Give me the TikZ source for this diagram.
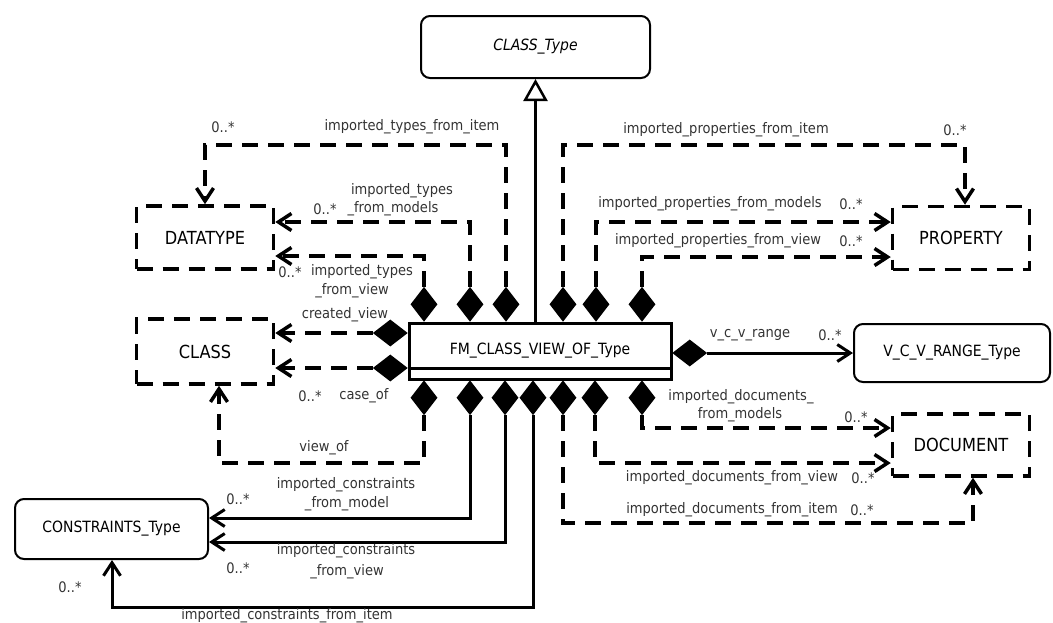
\documentclass[tikz,border=0pt]{standalone}
\usepackage{fontspec}
\setmainfont{DejaVu Sans}[FakeStretch=0.9]
\usetikzlibrary{arrows.meta,shapes.geometric}
\begin{document}
\begin{tikzpicture}[x=1pt,y=-1pt,
  lab/.style={inner sep=0pt, text=black!80, font=\fontsize{14.5}{16}\selectfont},
  dbox/.style={draw, line width=3.5pt, dash pattern=on 16pt off 10pt, minimum width=137pt, inner sep=0pt, font=\fontsize{18}{20}\selectfont},
  rbox/.style={draw, line width=2pt, rounded corners=9pt, inner sep=0pt, font=\fontsize{15.5}{17}\selectfont},
  mainbox/.style={draw, line width=3pt, inner sep=0pt, font=\fontsize{15.5}{17}\selectfont},
  vdia/.style={diamond, fill=black, inner sep=0pt, minimum width=27pt, minimum height=35pt},
  hdia/.style={diamond, fill=black, inner sep=0pt, minimum width=35pt, minimum height=27pt},
  dconn/.style={line width=3.5pt, dash pattern=on 16pt off 10pt, -{Straight Barb[length=13pt,width=17pt]}},
  sconn/.style={line width=3pt, -{Straight Barb[length=13pt,width=17pt]}},
  gen/.style={line width=2.5pt, -{Triangle[open,length=22pt,width=24pt]}}
]
\useasboundingbox (0,0) rectangle (1053,622);
% boxes
\node[rbox, minimum width=229pt, minimum height=62pt, font=\itshape\fontsize{15.5}{17}\selectfont] (CT) at (535.5,47) {CLASS\_Type};
\node[dbox, minimum height=63pt] (DT) at (205,237.5) {DATATYPE};
\node[dbox, minimum height=65pt] (CL) at (205,351.5) {CLASS};
\node[dbox, minimum height=63pt] (PR) at (961,238) {PROPERTY};
\node[dbox, minimum height=62pt] (DO) at (961,445) {DOCUMENT};
\node[rbox, minimum width=196pt, minimum height=58pt] (VR) at (952,353) {V\_C\_V\_RANGE\_Type};
\node[rbox, minimum width=193pt, minimum height=60pt] (CO) at (111.5,529) {CONSTRAINTS\_Type};
\node[mainbox, minimum width=262pt, minimum height=56pt] (FM) at (540,351) {FM\_CLASS\_VIEW\_OF\_Type};
\coordinate (comp) at (0,368);
\draw[line width=3pt] (FM.west |- comp) -- (FM.east |- comp);
% diamonds
\node[vdia, anchor=south] (dT1) at (424,322) {};
\node[vdia, anchor=south] (dT2) at (470,322) {};
\node[vdia, anchor=south] (dT3) at (506,322) {};
\node[vdia, anchor=south] (dT4) at (563,322) {};
\node[vdia, anchor=south] (dT5) at (596,322) {};
\node[vdia, anchor=south] (dT6) at (642,322) {};
\node[vdia, anchor=north] (dB1) at (424,380) {};
\node[vdia, anchor=north] (dB2) at (470,380) {};
\node[vdia, anchor=north] (dB3) at (505,380) {};
\node[vdia, anchor=north] (dB4) at (533,380) {};
\node[vdia, anchor=north] (dB5) at (563,380) {};
\node[vdia, anchor=north] (dB6) at (595,380) {};
\node[vdia, anchor=north] (dB7) at (642,380) {};
\node[hdia, anchor=east] (dL1) at (408,333) {};
\node[hdia, anchor=east] (dL2) at (408,368) {};
\node[hdia, anchor=west] (dR) at (672,353) {};
% generalization
\draw[gen] (FM.north -| CT.south) -- (CT.south);
% bend coordinates
\coordinate (k1) at (205,145);
\coordinate (k2) at (0,222);
\coordinate (k3) at (0,256);
\coordinate (k6) at (219,463);
\coordinate (k7) at (0,518);
\coordinate (k8) at (0,542);
\coordinate (k9) at (112,607);
\coordinate (k10) at (973,523);
\coordinate (k11) at (0,463);
\coordinate (k12) at (0,428);
\coordinate (k14) at (965,145);
\coordinate (k15) at (0,222);
\coordinate (k16) at (0,257);
% connectors
\draw[dconn] (dT3.north) |- (k1) -- (DT.north);
\draw[dconn] (dT2.north) |- (DT.east |- k2);
\draw[dconn] (dT1.north) |- (DT.east |- k3);
\draw[dconn] (dL1.west) -- (CL.east |- dL1.west);
\draw[dconn] (dL2.west) -- (CL.east |- dL2.west);
\draw[dconn] (dB1.south) |- (k6) -- (CL.south -| k6);
\draw[sconn] (dB2.south) |- (CO.east |- k7);
\draw[sconn] (dB3.south) |- (CO.east |- k8);
\draw[sconn] (dB4.south) |- (k9) -- (CO.south -| k9);
\draw[dconn] (dB5.south) |- (k10) -- (DO.south -| k10);
\draw[dconn] (dB6.south) |- (DO.west |- k11);
\draw[dconn] (dB7.south) |- (DO.west |- k12);
\draw[sconn] (dR.east) -- (VR.west |- dR.east);
\draw[dconn] (dT4.north) |- (k14) -- (PR.north -| k14);
\draw[dconn] (dT5.north) |- (PR.west |- k15);
\draw[dconn] (dT6.north) |- (PR.west |- k16);
% labels
\node[lab] (l1) at (412,127) {imported\_types\_from\_item};
\node[lab] (m1) at (223,127) {0..*};
\node[lab] (l2a) at (402,191) {imported\_types};
\node[lab] (l2b) at (393,209) {\_from\_models};
\node[lab] (m2) at (325,209) {0..*};
\node[lab] (l3a) at (362,272) {imported\_types};
\node[lab] (m3) at (290,272) {0..*};
\node[lab] (l3b) at (352,291) {\_from\_view};
\node[lab] (l4) at (345,315) {created\_view};
\node[lab] (m5) at (310,396) {0..*};
\node[lab] (l5) at (364,396) {case\_of};
\node[lab] (l6) at (324,448) {view\_of};
\node[lab] (l7a) at (346,485) {imported\_constraints};
\node[lab] (l7b) at (347,504) {\_from\_model};
\node[lab] (m7) at (238,499) {0..*};
\node[lab] (l8a) at (346,551) {imported\_constraints};
\node[lab] (l8b) at (347,572) {\_from\_view};
\node[lab] (m8) at (238,568) {0..*};
\node[lab] (m9) at (70,587) {0..*};
\node[lab] (l9) at (287,616) {imported\_constraints\_from\_item};
\node[lab] (l14) at (726,130) {imported\_properties\_from\_item};
\node[lab] (m14) at (955,130) {0..*};
\node[lab] (l15) at (710,204) {imported\_properties\_from\_models};
\node[lab] (m15) at (851,204) {0..*};
\node[lab] (l16) at (718,241) {imported\_properties\_from\_view};
\node[lab] (m16) at (851,241) {0..*};
\node[lab] (l13) at (750,335) {v\_c\_v\_range};
\node[lab] (m13) at (830,335) {0..*};
\node[lab] (l12a) at (741,397) {imported\_documents\_};
\node[lab] (l12b) at (740,415) {from\_models};
\node[lab] (m12) at (856,417) {0..*};
\node[lab] (l11) at (732,478) {imported\_documents\_from\_view};
\node[lab] (m11) at (863,478) {0..*};
\node[lab] (l10) at (732,510) {imported\_documents\_from\_item};
\node[lab] (m10) at (862,510) {0..*};
\end{tikzpicture}
\end{document}
